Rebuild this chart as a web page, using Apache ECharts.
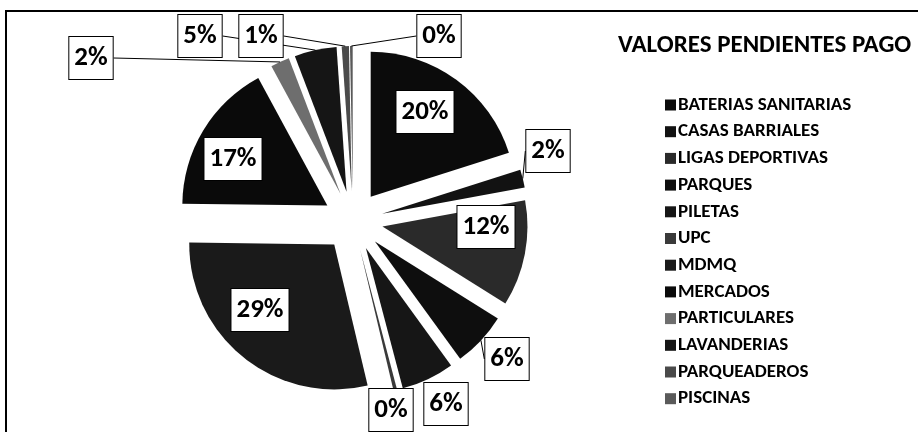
<!DOCTYPE html>
<html>
<head>
<meta charset="utf-8">
<script src="https://cdn.jsdelivr.net/npm/echarts@6/dist/echarts.min.js"></script>
<style>
html,body{margin:0;padding:0;background:#fff;}
#chart{width:918px;height:432px;}
</style>
</head>
<body>
<div id="chart"></div>
<script>
const categories = ["BATERIAS SANITARIAS","CASAS BARRIALES","LIGAS DEPORTIVAS","PARQUES","PILETAS","UPC","MDMQ","MERCADOS","PARTICULARES","LAVANDERIAS","PARQUEADEROS","PISCINAS"];
const values = [20.1, 2.0, 11.8, 6.1, 5.9, 0.4, 28.9, 16.9, 2.1, 4.7, 0.8, 0.3];
const colors = ["#0b0b0b","#121212","#2a2a2a","#0e0e0e","#161616","#3a3a3a","#1a1a1a","#0a0a0a","#6e6e6e","#151515","#4a4a4a","#5a5a5a"];
const titleText = "VALORES PENDIENTES PAGO";

// label box centres (annotation placement, in pixels)
const labelCenters = [[425,112],[548,151],[486,227],[507,359],[446,404],[391,410],[260,310],[233,159],[91,58],[200,36],[261,36],[439,36]];

const FONT = "Carlito, Lato, 'Open Sans', sans-serif";
const CX = 353, CY = 221, R = 145, OFFSET = 30;

const boxLabel = {
  show: true,
  color: '#000', fontFamily: FONT, fontWeight: 'bold', fontSize: 27, lineHeight: 33,
  backgroundColor: '#fff', borderColor: '#000', borderWidth: 1, padding: [5, 5, 4, 5]
};

// outer-edge point of each exploded slice, derived from the values
const total = values.reduce((a, b) => a + b, 0);
const outerPts = [];
(function () {
  let acc = 0;
  values.forEach(v => {
    const mid = (acc + v / 2) / total * Math.PI * 2;
    acc += v;
    const sx = Math.sin(mid), sy = -Math.cos(mid);
    outerPts.push([CX + sx * (OFFSET + R), CY + sy * (OFFSET + R)]);
  });
})();

const sliceData = categories.map((name, i) => ({
  name: name, value: values[i], selected: true, itemStyle: { color: colors[i] }
}));
const labelData = categories.map((name, i) => ({
  name: name, value: values[i],
  label: { position: values[i] >= 10 ? 'inside' : 'outside' },
  labelLine: { show: values[i] < 10 }
}));

const chart = echarts.init(document.getElementById('chart'), null, { renderer: 'canvas' });
chart.setOption({
  animation: false,
  backgroundColor: '#fff',
  graphic: [{
    type: 'rect', shape: { x: 6, y: 11, width: 940, height: 440 },
    style: { fill: 'none', stroke: '#000', lineWidth: 2 }, silent: true, z: -1
  }],
  title: {
    text: titleText, left: 613, top: 28,
    textStyle: { fontFamily: FONT, fontWeight: 'bold', fontSize: 25, color: '#000' }
  },
  legend: {
    orient: 'vertical', left: 660, top: 90,
    icon: 'rect', itemWidth: 11, itemHeight: 11, itemGap: 6.7,
    textStyle: { fontFamily: FONT, fontWeight: 'bold', fontSize: 19, lineHeight: 20, color: '#000', padding: [0, 0, 0, -3] },
    data: categories
  },
  series: [{
    name: 'slices',
    type: 'pie',
    center: [CX, CY],
    radius: [0, R],
    startAngle: 90,
    clockwise: true,
    selectedMode: 'multiple',
    selectedOffset: OFFSET,
    itemStyle: { borderWidth: 0 },
    label: { show: false },
    labelLine: { show: false },
    emphasis: { disabled: true },
    data: sliceData
  }, {
    name: 'labels',
    type: 'pie',
    center: [CX, CY],
    radius: [0, R],
    startAngle: 90,
    clockwise: true,
    selectedMode: false,
    silent: true,
    z: 5,
    avoidLabelOverlap: false,
    itemStyle: { color: 'rgba(0,0,0,0)', borderWidth: 0 },
    label: Object.assign({ formatter: p => Math.round(p.percent) + '%' }, boxLabel),
    labelLine: { show: true, length: 14, length2: 14, lineStyle: { color: '#000', width: 1 } },
    emphasis: { disabled: true },
    labelLayout: function (params) {
      const i = params.dataIndex;
      const c = labelCenters[i];
      const w = params.labelRect.width, h = params.labelRect.height;
      const out = { x: c[0], y: c[1], align: 'center', verticalAlign: 'middle' };
      if (values[i] < 10) {
        const s = outerPts[i];
        const left = c[0] - w / 2, right = c[0] + w / 2, top = c[1] - h / 2, bottom = c[1] + h / 2;
        let e;
        if (s[0] < left) e = [left, c[1]];
        else if (s[0] > right) e = [right, c[1]];
        else if (s[1] < top) e = [s[0], top];
        else e = [s[0], bottom];
        const d = Math.hypot(e[0] - s[0], e[1] - s[1]);
        out.labelLinePoints = d < 14 ? [e, e, e] : [s, e, e];
      }
      return out;
    },
    data: labelData
  }]
});
</script>
</body>
</html>
